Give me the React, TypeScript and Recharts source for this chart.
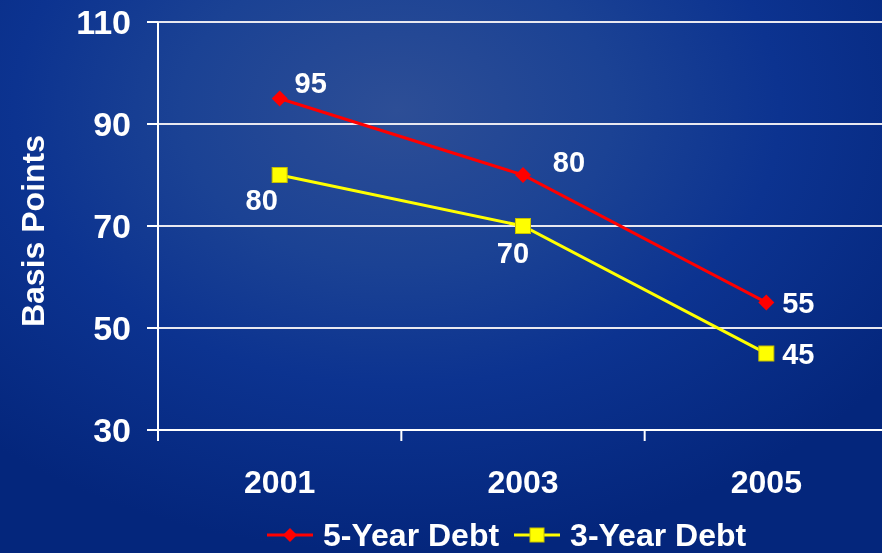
import React from 'react';
import { LineChart, Line, XAxis, YAxis, CartesianGrid, Legend, LabelList } from 'recharts';

const years = ['2001', '2003', '2005'];
const fiveYearDebt = [95, 80, 55];
const threeYearDebt = [80, 70, 45];
const yTicks = [30, 50, 70, 90, 110];

const data = years.map((year, i) => ({
  year,
  fiveYear: fiveYearDebt[i],
  threeYear: threeYearDebt[i],
}));

const FONT = '"Liberation Sans", Arial, sans-serif';

function Diamond({ cx, cy, size = 16 }: any) {
  const r = size / 2;
  return <path d={`M${cx},${cy - r} L${cx + r},${cy} L${cx},${cy + r} L${cx - r},${cy} Z`} fill="#ff0000" />;
}

function Square({ cx, cy, size = 15 }: any) {
  const h = size / 2;
  return <rect x={cx - h} y={cy - h} width={size} height={size} fill="#ffff00" stroke="#c8c000" strokeWidth={1} />;
}

// label nudges per point, picked to sit where the original put them
const fiveOffsets = [[31, -16], [46, -13], [32, 0]];
const threeOffsets = [[-18, 25], [-10, 27], [32, 0]];

function makeLabel(offsets: number[][]) {
  return (props: any) => {
    const { x, y, value, index } = props;
    const [dx, dy] = offsets[index] || [0, 0];
    return (
      <text x={x + dx} y={y + dy} fill="#fff" fontSize={29} fontWeight="bold" fontFamily={FONT}
        textAnchor="middle" dominantBaseline="central">
        {value}
      </text>
    );
  };
}

function XTick(props: any) {
  const { x, y, payload } = props;
  const half = payload && payload.offset ? payload.offset : 0;
  return (
    <g>
      {half ? <line x1={x - half} x2={x - half} y1={y} y2={y + 11} stroke="#fff" strokeWidth={2} /> : null}
      <text x={x} y={y + 40} dy="0.71em" fill="#fff" fontSize={32} fontWeight="bold" fontFamily={FONT} textAnchor="middle">
        {payload.value}
      </text>
    </g>
  );
}

function YLabel({ viewBox }: any) {
  const cy = viewBox.y + viewBox.height / 2 + 5;
  return (
    <text x={44} y={cy} transform={`rotate(-90 44 ${cy})`} fill="#fff" fontSize={32} fontWeight="bold"
      fontFamily={FONT} textAnchor="middle">
      Basis Points
    </text>
  );
}

function LegendIcon({ kind, color }: { kind: string; color: string }) {
  return (
    <svg width={46} height={20} style={{ display: 'block' }}>
      <line x1={0} x2={46} y1={10} y2={10} stroke={color} strokeWidth={3} />
      {kind === 'diamond' ? <Diamond cx={23} cy={10} size={14} /> : <Square cx={23} cy={10} size={14} />}
    </svg>
  );
}

function LegendBox() {
  const items = [
    { name: '5-Year Debt', color: '#ff0000', kind: 'diamond' },
    { name: '3-Year Debt', color: '#ffff00', kind: 'square' },
  ];
  return (
    <div style={{ height: 36, display: 'flex', alignItems: 'center', paddingLeft: 267, fontFamily: FONT, fontWeight: 'bold', fontSize: 32, color: '#fff' }}>
      {items.map((it, i) => (
        <div key={it.name} style={{ display: 'flex', alignItems: 'center', marginRight: i === 0 ? 15 : 0 }}>
          <LegendIcon kind={it.kind} color={it.color} />
          <span style={{ marginLeft: 10, whiteSpace: 'nowrap' }}>{it.name}</span>
        </div>
      ))}
    </div>
  );
}

export default function App() {
  return (
    <div
      style={{
        position: 'fixed',
        left: 0,
        top: 0,
        width: 882,
        height: 553,
        overflow: 'hidden',
        background:
          'radial-gradient(ellipse 70% 80% at 45% 20%, #2d4e96 0%, #1b4294 35%, #0c3390 62%, #04267c 100%)',
      }}
    >
      <LineChart width={890} height={553} data={data} margin={{ top: 22, right: 2, left: 0, bottom: 0 }}>
        <CartesianGrid horizontal vertical={false} stroke="#e8e8f0" strokeWidth={2} />
        <XAxis
          dataKey="year"
          scale="band"
          height={87}
          tickLine={false}
          tickSize={0}
          tickMargin={0}
          axisLine={{ stroke: '#fff', strokeWidth: 2 }}
          tick={<XTick />}
          interval={0}
        />
        <YAxis
          width={158}
          domain={[30, 110]}
          ticks={yTicks}
          interval={0}
          tickSize={11}
          tickMargin={16}
          axisLine={{ stroke: '#fff', strokeWidth: 2 }}
          tickLine={{ stroke: '#fff', strokeWidth: 2 }}
          tick={{ fill: '#fff', fontSize: 34, fontWeight: 'bold', fontFamily: FONT }}
          label={<YLabel />}
        />
        <Legend verticalAlign="bottom" content={<LegendBox />} wrapperStyle={{ left: 0, width: 882 }} />
        <Line
          name="5-Year Debt"
          dataKey="fiveYear"
          stroke="#ff0000"
          strokeWidth={3}
          dot={<Diamond />}
          activeDot={false}
          isAnimationActive={false}
        >
          <LabelList dataKey="fiveYear" content={makeLabel(fiveOffsets)} />
        </Line>
        <Line
          name="3-Year Debt"
          dataKey="threeYear"
          stroke="#ffff00"
          strokeWidth={3}
          dot={<Square />}
          activeDot={false}
          isAnimationActive={false}
        >
          <LabelList dataKey="threeYear" content={makeLabel(threeOffsets)} />
        </Line>
      </LineChart>
    </div>
  );
}
